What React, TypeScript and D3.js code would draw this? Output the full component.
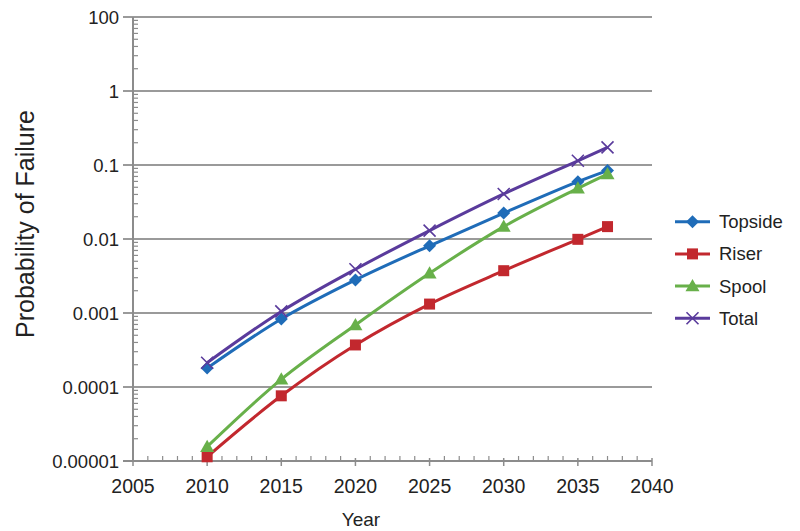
import React from "react";
import * as d3 from "d3";

const years = [2010, 2015, 2020, 2025, 2030, 2035, 2037];
const topside = [0.00018, 0.00083, 0.0028, 0.0081, 0.0224, 0.0595, 0.084];
const riser = [0.0000114, 0.000076, 0.00037, 0.00132, 0.00373, 0.0099, 0.0147];
const spool = [0.0000156, 0.000127, 0.00069, 0.00344, 0.0147, 0.0484, 0.0755];
const total = [0.000213, 0.00105, 0.0039, 0.013, 0.0406, 0.114, 0.173];
const xTicks = [2005, 2010, 2015, 2020, 2025, 2030, 2035, 2040];
const yTickValues = [10, 1, 0.1, 0.01, 0.001, 0.0001, 0.00001];
const yTickLabels = ["100", "1", "0.1", "0.01", "0.001", "0.0001", "0.00001"];

const seriesNames = ["Topside", "Riser", "Spool", "Total"];
const seriesColors = ["#1f6cb8", "#c2282e", "#68b04a", "#5a3b9c"];
const seriesMarkers = ["diamond", "square", "triangle", "x"];

const W = 800, H = 531;
const m = { left: 133, right: 652, top: 17, bottom: 461 };
const font = "'Liberation Sans', Arial, Helvetica, sans-serif";

function Marker({ kind, x, y, color }: { kind: string; x: number; y: number; color: string }) {
  if (kind === "diamond") {
    const s = 6.5;
    return <path d={`M${x},${y - s}L${x + s},${y}L${x},${y + s}L${x - s},${y}Z`} fill={color} />;
  }
  if (kind === "square") {
    const s = 5.5;
    return <rect x={x - s} y={y - s} width={2 * s} height={2 * s} fill={color} />;
  }
  if (kind === "triangle") {
    const s = 7;
    return <path d={`M${x},${y - s}L${x + s},${y + s * 0.75}L${x - s},${y + s * 0.75}Z`} fill={color} />;
  }
  const s = 6;
  return (
    <path d={`M${x - s},${y - s}L${x + s},${y + s}M${x - s},${y + s}L${x + s},${y - s}`} stroke={color} strokeWidth={1.6} fill="none" />
  );
}

export default function App() {
  const x = d3.scaleLinear().domain([2005, 2040]).range([m.left, m.right]);
  const y = d3.scaleLog().domain([0.00001, 10]).range([m.bottom, m.top]);
  const data = [topside, riser, spool, total];
  const line = d3
    .line<[number, number]>()
    .x((d) => x(d[0]))
    .y((d) => y(d[1]))
    .curve(d3.curveCatmullRom.alpha(0.5));

  const minorY: number[] = [];
  for (let e = -5; e < 1; e++) {
    for (let k = 2; k <= 9; k++) minorY.push(k * Math.pow(10, e));
  }
  const minorX: number[] = [];
  for (let yr = 2005; yr <= 2040; yr++) if (yr % 5 !== 0) minorX.push(yr);

  const grid = "#9a9a9a";
  const axisC = "#8c8c8c";

  return (
    <svg width={W} height={H} style={{ position: "absolute", left: 0, top: 0, background: "#fff" }} fontFamily={font}>
      {yTickValues.map((v) => (
        <line key={"g" + v} x1={m.left - 10} x2={m.right} y1={y(v)} y2={y(v)} stroke={grid} strokeWidth={2} />
      ))}
      {minorY.map((v, i) => (
        <line key={"my" + i} x1={m.left} x2={m.left + 5} y1={y(v)} y2={y(v)} stroke={axisC} strokeWidth={1.2} />
      ))}
      <line x1={m.left} x2={m.left} y1={m.top} y2={m.bottom + 1} stroke={axisC} strokeWidth={2} />
      <line x1={m.left - 10} x2={m.right} y1={m.bottom} y2={m.bottom} stroke={axisC} strokeWidth={2} />
      {minorX.map((v) => (
        <line key={"mx" + v} x1={x(v)} x2={x(v)} y1={m.bottom} y2={m.bottom - 5} stroke={axisC} strokeWidth={1.2} />
      ))}
      {xTicks.map((v) => (
        <line key={"xt" + v} x1={x(v)} x2={x(v)} y1={m.bottom - 3} y2={m.bottom + 5} stroke={axisC} strokeWidth={1.5} />
      ))}
      {xTicks.map((v) => (
        <text key={"xl" + v} x={x(v)} y={m.bottom + 32} textAnchor="middle" fontSize={19.5} fill="#222">
          {v}
        </text>
      ))}
      {yTickValues.map((v, i) => (
        <text key={"yl" + v} x={m.left - 14} y={y(v) + 6.5} textAnchor="end" fontSize={18.5} fill="#222">
          {yTickLabels[i]}
        </text>
      ))}
      <text x={361} y={526} textAnchor="middle" fontSize={19} fill="#222">
        Year
      </text>
      <text transform={`translate(34,224) rotate(-90)`} textAnchor="middle" fontSize={25} fill="#222">
        Probability of Failure
      </text>
      {data.map((vals, si) => (
        <g key={"s" + si}>
          <path
            d={line(years.map((yr, i) => [yr, vals[i]] as [number, number])) || ""}
            fill="none"
            stroke={seriesColors[si]}
            strokeWidth={3}
          />
          {years.map((yr, i) => (
            <Marker key={i} kind={seriesMarkers[si]} x={x(yr)} y={y(vals[i])} color={seriesColors[si]} />
          ))}
        </g>
      ))}
      {seriesNames.map((n, i) => {
        const ly = 221.7 + i * 32.2;
        return (
          <g key={"lg" + n}>
            <line x1={675} x2={710} y1={ly} y2={ly} stroke={seriesColors[i]} strokeWidth={3} />
            <Marker kind={seriesMarkers[i]} x={692.5} y={ly} color={seriesColors[i]} />
            <text x={719} y={ly + 6.5} fontSize={18.5} fill="#222">
              {n}
            </text>
          </g>
        );
      })}
    </svg>
  );
}
